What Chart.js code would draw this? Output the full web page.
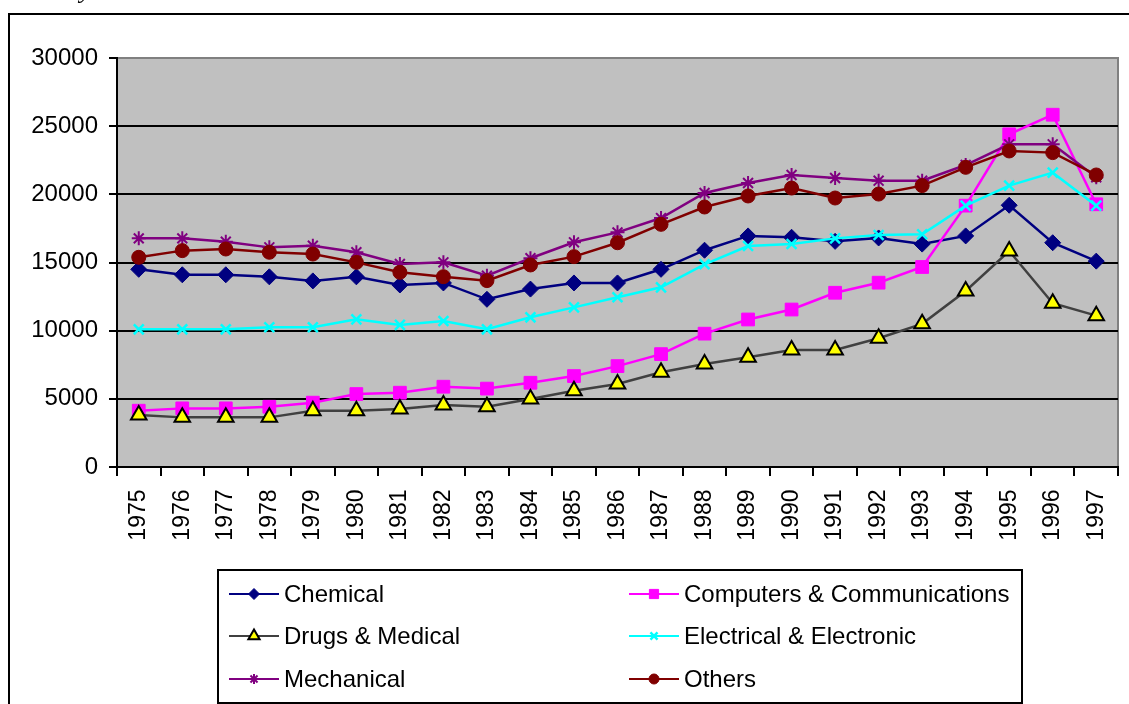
<!DOCTYPE html>
<html>
<head>
<meta charset="utf-8">
<script src="https://cdn.jsdelivr.net/npm/chart.js@4/dist/chart.umd.min.js"></script>
<style>
html,body{margin:0;padding:0;background:#fff;overflow:hidden;}
#wrap{position:relative;width:1129px;height:704px;}
#c{position:absolute;left:0;top:0;}
#frag{position:absolute;left:80px;top:-25px;font:italic 26px "Liberation Serif","Times New Roman",serif;color:#000;}
</style>
</head>
<body>
<div id="wrap">
<canvas id="c" width="1129" height="704"></canvas>
<div id="frag">y</div>
</div>
<script>
const years = ['1975','1976','1977','1978','1979','1980','1981','1982','1983','1984','1985','1986','1987','1988','1989','1990','1991','1992','1993','1994','1995','1996','1997'];
const yTicks = [0, 5000, 10000, 15000, 20000, 25000, 30000];
const seriesNames = ['Chemical','Computers & Communications','Drugs & Medical','Electrical & Electronic','Mechanical','Others'];

const chemical    = [14500,14100,14100,13950,13650,13950,13350,13500,12300,13050,13500,13500,14500,15900,16950,16850,16550,16800,16350,16950,19200,16450,15100];
const computers   = [4130,4300,4300,4420,4720,5350,5450,5890,5750,6180,6670,7400,8280,9780,10820,11550,12780,13520,14670,19170,24400,25840,19270];
const drugs       = [3810,3640,3640,3640,4130,4130,4250,4550,4420,4990,5600,6090,6950,7560,8050,8580,8580,9440,10500,12910,15840,12010,11100];
const electrical  = [10100,10100,10100,10250,10250,10830,10420,10710,10100,10980,11710,12450,13180,14870,16210,16360,16770,17020,17070,19170,20640,21590,19170];
const mechanical  = [16770,16770,16530,16110,16230,15750,14890,15010,14030,15310,16480,17210,18260,20100,20830,21420,21200,21000,21000,22150,23670,23670,21250];
const others      = [15380,15870,15990,15750,15620,15010,14280,13960,13670,14820,15430,16450,17800,19070,19880,20460,19730,20020,20640,21980,23180,23060,21420];

const FONT = '"Liberation Sans", Arial, Helvetica, sans-serif';

const styles = [
  {line:'#000080', fill:'#000080', stroke:'#000080', ps:'rectRot', r:8, bw:1},
  {line:'#FF00FF', fill:'#FF00FF', stroke:'#FF00FF', ps:'rect', r:9, bw:1},
  {line:'#404040', fill:'#FFFF00', stroke:'#000000', ps:'triangle', r:9, bw:2},
  {line:'#00FFFF', fill:'#00FFFF', stroke:'#00FFFF', ps:'crossRot', r:7, bw:2.5},
  {line:'#800080', fill:'#800080', stroke:'#800080', ps:'star', r:7, bw:2},
  {line:'#800000', fill:'#800000', stroke:'#800000', ps:'circle', r:7, bw:1}
];
const values = [chemical, computers, drugs, electrical, mechanical, others];

const datasets = seriesNames.map((n, i) => ({
  label: n,
  data: values[i],
  borderColor: styles[i].line,
  backgroundColor: styles[i].fill,
  borderWidth: 2.5,
  pointStyle: styles[i].ps,
  pointRadius: styles[i].r,
  pointHoverRadius: styles[i].r,
  pointBackgroundColor: styles[i].fill,
  pointBorderColor: styles[i].stroke,
  pointBorderWidth: styles[i].bw,
  tension: 0,
  fill: false,
  order: seriesNames.length - i,
  clip: false
}));

const bgPlugin = {
  id: 'bg',
  beforeDraw(chart) {
    const ctx = chart.ctx, a = chart.chartArea;
    ctx.save();
    ctx.fillStyle = '#fff';
    ctx.fillRect(0, 0, chart.width, chart.height);
    ctx.strokeStyle = '#000';
    ctx.lineWidth = 2;
    ctx.beginPath();
    ctx.moveTo(9, 710);
    ctx.lineTo(9, 14);
    ctx.lineTo(1135, 14);
    ctx.stroke();
    ctx.fillStyle = '#C0C0C0';
    ctx.fillRect(a.left, a.top, a.right - a.left, a.bottom - a.top);
    ctx.strokeStyle = '#808080';
    ctx.lineWidth = 2;
    ctx.strokeRect(a.left, a.top, a.right - a.left, a.bottom - a.top);
    ctx.restore();
  }
};

function drawMarker(ctx, st, x, y, r) {
  const opts = {pointStyle: st.ps, radius: r, rotation: 0, borderWidth: st.bw};
  ctx.fillStyle = st.fill;
  ctx.strokeStyle = st.stroke;
  ctx.lineWidth = st.bw;
  if (Chart.helpers && Chart.helpers.drawPoint) {
    Chart.helpers.drawPoint(ctx, opts, x, y);
  } else {
    ctx.beginPath(); ctx.arc(x, y, r, 0, Math.PI * 2); ctx.fill();
  }
}

const legendPlugin = {
  id: 'boxLegend',
  afterDraw(chart) {
    const ctx = chart.ctx;
    ctx.save();
    ctx.strokeStyle = '#000';
    ctx.lineWidth = 2;
    ctx.strokeRect(218, 570, 804, 133);
    const rows = [594, 636, 679];
    const cols = [229, 629];
    ctx.font = '24px ' + FONT;
    ctx.textBaseline = 'middle';
    seriesNames.forEach((n, i) => {
      const cx = cols[i % 2], cy = rows[Math.floor(i / 2)];
      const st = styles[i];
      ctx.strokeStyle = st.line;
      ctx.lineWidth = 2;
      ctx.beginPath();
      ctx.moveTo(cx, cy); ctx.lineTo(cx + 50, cy);
      ctx.stroke();
      drawMarker(ctx, st, cx + 25, cy, Math.max(5, st.r - 2.5));
      ctx.fillStyle = '#000';
      ctx.fillText(n, cx + 55, cy + 1);
    });
    ctx.restore();
  }
};

new Chart(document.getElementById('c'), {
  type: 'line',
  data: { labels: years, datasets: datasets },
  options: {
    responsive: false,
    animation: false,
    devicePixelRatio: 1,
    layout: { padding: { left: 0, top: 58, right: 5, bottom: 147 } },
    plugins: { legend: { display: false }, tooltip: { enabled: false } },
    scales: {
      x: {
        type: 'category',
        offset: true,
        grid: { display: true, offset: true, drawOnChartArea: false, drawTicks: true, tickLength: 9, color: '#000', lineWidth: 2 },
        border: { display: true, color: '#000', width: 2 },
        ticks: {
          color: '#000', font: { family: FONT, size: 23 }, minRotation: 90, maxRotation: 90, autoSkip: false, padding: 2,
          callback: function(v) { return this.getLabelForValue(v) + '\u2002'; }
        },
        afterFit(s) { s.height = 90; s.paddingLeft = 0; s.paddingRight = 0; }
      },
      y: {
        min: 0, max: 30000,
        afterBuildTicks(s) { s.ticks = yTicks.map(v => ({ value: v })); },
        grid: {
          color: (c) => (c.tick && c.tick.value === 30000) ? '#808080' : '#000',
          tickColor: '#000',
          lineWidth: 2, tickLength: 8, drawTicks: true
        },
        border: { display: true, color: '#000', width: 2 },
        ticks: { color: '#000', font: { family: FONT, size: 24 }, padding: 11, callback: (v) => String(v) },
        afterFit(s) { s.width = 117; }
      }
    }
  },
  plugins: [bgPlugin, legendPlugin]
});
</script>
</body>
</html>
